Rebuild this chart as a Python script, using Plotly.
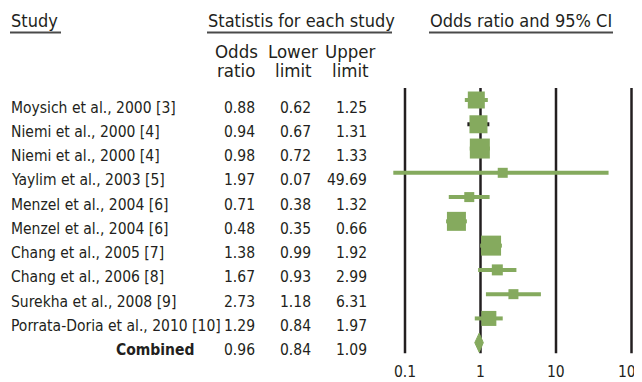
import math
import plotly.graph_objects as go

# ---------------- data ----------------
studies = [
    "Moysich et al., 2000 [3]",
    "Niemi et al., 2000 [4]",
    "Niemi et al., 2000 [4]",
    "Yaylim et al., 2003 [5]",
    "Menzel et al., 2004 [6]",
    "Menzel et al., 2004 [6]",
    "Chang et al., 2005 [7]",
    "Chang et al., 2006 [8]",
    "Surekha et al., 2008 [9]",
    "Porrata-Doria et al., 2010 [10]",
]
odds_ratio = [0.88, 0.94, 0.98, 1.97, 0.71, 0.48, 1.38, 1.67, 2.73, 1.29]
lower_limit = [0.62, 0.67, 0.72, 0.07, 0.38, 0.35, 0.99, 0.93, 1.18, 0.84]
upper_limit = [1.25, 1.31, 1.33, 49.69, 1.32, 0.66, 1.92, 2.99, 6.31, 1.97]
combined_label = "Combined"
combined = [0.96, 0.84, 1.09]  # odds ratio, lower, upper
tick_values = [0.1, 1, 10, 100]
tick_labels = ["0.1", "1", "10", "100"]

# ---------------- styles ----------------
PAGE_W, PAGE_H = 642, 382
OFF = 8                      # default body margin of the html page
W, H = PAGE_W - OFF, PAGE_H - OFF
GREEN = "#85aa5e"
DARK = "#231f20"
FONT = "DejaVu Sans Condensed, Liberation Sans Narrow, sans-serif"
box_px = [17, 18, 20, 10, 10, 19, 20, 11, 10, 15]
whisker_colors = [GREEN, DARK, GREEN, GREEN, GREEN, GREEN, GREEN, GREEN, GREEN, GREEN]
ROW0, ROWSTEP = 100.0, 24.27      # page pixel y of first row centre, row spacing
X1PX, DECADE = 405.0, 75.5         # page pixel x of 0.1, pixels per decade
PLOT_LEFT = 390.0

def px(xp):
    return (xp - OFF) / W

def py(yp):
    return 1 - (yp - OFF) / H

fig = go.Figure()

n = len(studies)
rows = list(range(n))

# whiskers
for i in rows:
    fig.add_trace(go.Scatter(
        x=[lower_limit[i], upper_limit[i]], y=[i, i], mode="lines",
        line=dict(color=whisker_colors[i], width=4), hoverinfo="skip", showlegend=False))

# boxes
fig.add_trace(go.Scatter(
    x=odds_ratio, y=rows, mode="markers",
    marker=dict(symbol="square", size=box_px, color=GREEN, opacity=1, line=dict(width=0)),
    showlegend=False))

# combined diamond
dh = 0.39
fig.add_trace(go.Scatter(
    x=[combined[1], combined[0], combined[2], combined[0], combined[1]],
    y=[n, n - dh, n, n + dh, n], mode="lines", fill="toself",
    fillcolor=GREEN, line=dict(color=GREEN, width=1), showlegend=False))

# vertical reference lines
y_top = (88 - ROW0) / ROWSTEP
y_bot = (353.3 - ROW0) / ROWSTEP
for v in tick_values:
    fig.add_shape(type="line", xref="x", yref="y", x0=v, x1=v, y0=y_top, y1=y_bot,
                  line=dict(color=DARK, width=2.5), layer="below")

ann = []
def text(x, y, s, size=15.5, xanchor="left", bold=False):
    ann.append(dict(x=x, y=y, xref="paper", yref="paper",
                    text=("<b>%s</b>" % s) if bold else s,
                    showarrow=False, xanchor=xanchor, yanchor="middle",
                    font=dict(family=FONT, size=size, color="#231f20")))

# table rows
for i in rows + [n]:
    yc = py(107.5 + ROWSTEP * i)
    if i < n:
        text(px(9), yc, studies[i])
        o, l, u = odds_ratio[i], lower_limit[i], upper_limit[i]
    else:
        text(px(196), yc, combined_label, xanchor="right", bold=True)
        o, l, u = combined
    text(px(257), yc, "%.2f" % o, xanchor="right")
    text(px(313), yc, "%.2f" % l, xanchor="right")
    text(px(369), yc, "%.2f" % u, xanchor="right")

# headers
text(px(9), py(20), "Study", size=18)
text(px(206), py(20), "Statistis for each study", size=18)
text(px(428), py(20), "Odds ratio and 95% CI", size=18)
for xc, a, b in [(236, "Odds", "ratio"), (293, "Lower", "limit"), (350, "Upper", "limit")]:
    text(px(xc), py(51), a, size=18.5, xanchor="center")
    text(px(xc), py(70), b, size=18.5, xanchor="center")

# underlines
for x0, x1 in [(10, 61), (207, 392), (429, 613)]:
    fig.add_shape(type="line", xref="paper", yref="paper", x0=px(x0), x1=px(x1),
                  y0=py(32.5), y1=py(32.5), line=dict(color="#4a4a4a", width=2))

# axis tick labels
for v, lab in zip(tick_values, tick_labels):
    ann.append(dict(x=math.log10(v), y=py(372), xref="x", yref="paper", text=lab,
                    showarrow=False, xanchor="center", yanchor="middle",
                    font=dict(family=FONT, size=15.5, color="#231f20")))

x_lo = -1 - (X1PX - PLOT_LEFT) / DECADE
x_hi = -1 + (PAGE_W - X1PX) / DECADE
fig.update_layout(
    width=W, height=H, margin=dict(l=0, r=0, t=0, b=0),
    paper_bgcolor="white", plot_bgcolor="white",
    xaxis=dict(type="log", range=[x_lo, x_hi], domain=[px(PLOT_LEFT), 1],
               visible=False, fixedrange=True),
    yaxis=dict(range=[(PAGE_H - ROW0) / ROWSTEP, (OFF - ROW0) / ROWSTEP], domain=[0, 1],
               visible=False, fixedrange=True),
    annotations=ann, showlegend=False,
)
fig.write_html("out.html")
